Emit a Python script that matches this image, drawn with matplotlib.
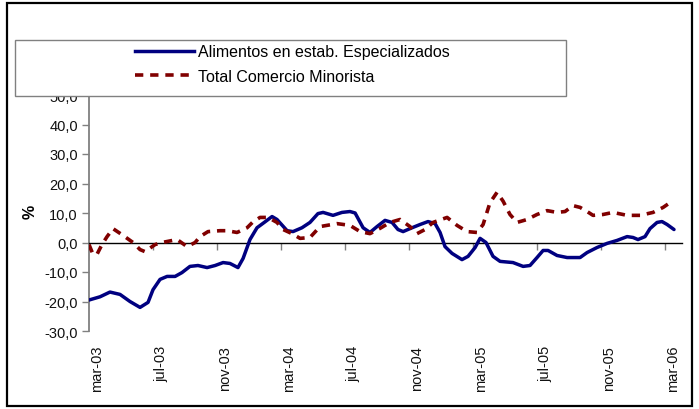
import matplotlib
matplotlib.use("Agg")
import matplotlib.pyplot as plt
from matplotlib.patches import Rectangle
from matplotlib.lines import Line2D

plt.rcParams['font.family'] = ['Liberation Sans', 'DejaVu Sans']

# x = months since mar-03
alim_x = [0.0, 0.69, 1.31, 1.94, 2.56, 3.19, 3.69, 4.0, 4.44, 4.88, 5.38, 5.81, 6.31, 6.81,
          7.38, 7.88, 8.38, 8.81, 9.31, 9.63, 10.06, 10.5, 11.0, 11.44, 11.75, 12.38, 12.75,
          13.31, 13.81, 14.31, 14.63, 15.25, 15.81, 16.31, 16.63, 17.13, 17.56, 18.0, 18.5,
          18.94, 19.31, 19.63, 20.19, 20.69, 21.19, 21.63, 21.94, 22.25, 22.69, 23.31, 23.69,
          24.13, 24.44, 24.81, 25.25, 25.69, 26.5, 27.13, 27.56, 28.0, 28.38, 28.69, 29.25,
          29.88, 30.69, 31.13, 31.75, 32.38, 33.0, 33.63, 34.0, 34.31, 34.75, 35.06, 35.5,
          35.81, 36.13, 36.56]
alim_y = [-19.5, -18.4, -16.8, -17.6, -20.0, -22.0, -20.3, -16.0, -12.5, -11.5, -11.5, -10.2,
          -8.1, -7.8, -8.5, -7.8, -6.8, -7.1, -8.5, -5.4, 1.0, 5.0, 7.0, 8.8, 7.8, 4.0, 3.7,
          5.0, 6.8, 9.8, 10.2, 9.2, 10.2, 10.5, 10.0, 5.0, 3.4, 5.4, 7.5, 6.8, 4.4, 3.7, 5.0,
          6.1, 7.1, 6.4, 3.4, -1.4, -3.7, -5.8, -4.7, -1.7, 1.4, 0.0, -4.7, -6.4, -6.8, -8.1,
          -7.8, -5.1, -2.7, -2.7, -4.4, -5.1, -5.1, -3.4, -1.7, -0.3, 0.7, 2.0, 1.7, 1.0, 2.0,
          4.7, 6.8, 7.1, 6.1, 4.4]

total_x = [0.0, 0.25, 0.5, 0.81, 1.13, 1.5, 2.13, 2.75, 3.19, 3.5, 4.13, 4.56, 5.5, 5.69,
           6.13, 6.63, 6.94, 7.44, 8.19, 8.63, 9.25, 9.88, 10.25, 10.69, 11.19, 11.75, 12.13,
           12.69, 13.19, 13.81, 14.44, 15.5, 16.31, 16.94, 17.56, 18.19, 18.81, 19.44, 20.06,
           20.5, 21.0, 21.5, 22.38, 23.0, 23.63, 24.25, 24.63, 25.06, 25.5, 25.88, 26.31,
           26.75, 27.38, 28.0, 28.63, 29.25, 29.75, 30.25, 30.69, 31.13, 31.5, 32.13, 32.75,
           33.63, 34.44, 35.25, 35.88, 36.31]
total_y = [-0.7, -4.0, -4.0, -0.7, 2.0, 4.7, 2.4, 0.0, -2.4, -3.1, -0.7, 0.0, 1.0, 0.3, -1.4,
           0.0, 2.0, 3.7, 4.0, 4.0, 3.4, 5.0, 7.0, 8.5, 8.5, 6.8, 4.4, 3.0, 1.4, 1.7, 5.4, 6.4,
           5.8, 3.7, 3.0, 4.8, 6.8, 7.8, 5.4, 3.0, 4.4, 6.8, 8.5, 5.8, 3.7, 3.4, 6.1, 13.5,
           17.0, 14.0, 9.5, 6.8, 7.8, 9.5, 10.8, 10.2, 10.5, 12.5, 11.9, 10.5, 9.2, 9.5, 10.2,
           9.2, 9.2, 10.2, 11.9, 13.5]

tick_pos = [0, 4, 8, 12, 16, 20, 24, 28, 32, 36]
tick_lab = ['mar-03', 'jul-03', 'nov-03', 'mar-04', 'jul-04', 'nov-04',
            'mar-05', 'jul-05', 'nov-05', 'mar-06']
y_ticks = [-30, -20, -10, 0, 10, 20, 30, 40, 50]

W, H = 699, 410
fig = plt.figure(figsize=(W / 100, H / 100), dpi=100)
ax = fig.add_axes([89 / W, 1 - 332 / H, (682 - 89) / W, (332 - 96) / H])

ax.plot(alim_x, alim_y, color='#000080', lw=2.5, solid_capstyle='round',
        solid_joinstyle='round', zorder=3)
ax.plot(total_x, total_y, color='#800000', lw=2.6, dashes=(2.3, 1.9), zorder=3)

ax.set_xlim(0, 37.06)
ax.set_ylim(-30, 50)

# y axis
ax.set_yticks(y_ticks)
ax.set_yticklabels([f"{v:.1f}".replace('.', ',') for v in y_ticks])
ax.tick_params(axis='y', direction='out', length=5, width=1, color='#808080',
               labelsize=10.5, labelcolor='#111111', pad=3)
ax.spines['left'].set_color('#808080')
ax.spines['left'].set_linewidth(1.3)
ax.spines['top'].set_visible(False)
ax.spines['right'].set_visible(False)

# zero line carries the tick marks
ax.spines['bottom'].set_position(('data', 0))
ax.spines['bottom'].set_color('black')
ax.spines['bottom'].set_linewidth(1.0)
ax.set_xticks(tick_pos)
ax.tick_params(axis='x', direction='out', length=5, width=1, color='#808080',
               labelbottom=False)

# labels at the bottom of the plot
sec = ax.secondary_xaxis('bottom')
sec.spines['bottom'].set_visible(False)
sec.set_xticks([p + 0.5 for p in tick_pos])
sec.set_xticklabels(tick_lab, rotation=90)
sec.tick_params(axis='x', length=0, pad=10, labelsize=10.5, labelcolor='#111111')

fig.text(30 / W, 1 - 212 / H, '%', rotation=90, fontsize=11.5, fontweight='bold',
         ha='center', va='center')

# outer frame
fig.add_artist(Rectangle((7 / W, 1 - 407 / H), 685 / W, 403 / H, transform=fig.transFigure,
                         fill=False, edgecolor='black', lw=1.6, zorder=1))

# legend box
fig.add_artist(Rectangle((15 / W, 1 - 97 / H), 551 / W, 56 / H, transform=fig.transFigure,
                         facecolor='white', edgecolor='#808080', lw=1.0, zorder=2))
handles = [Line2D([], [], color='#000080', lw=2.5),
           Line2D([], [], color='#800000', lw=2.6, dashes=(2.3, 1.9))]
labels = ['Alimentos en estab. Especializados', 'Total Comercio Minorista']
leg = fig.legend(handles, labels, loc='center', bbox_to_anchor=(292 / W, 1 - 65 / H),
                 frameon=False, fontsize=11.5, handlelength=3.7, handletextpad=0.25,
                 labelspacing=0.6, borderaxespad=0, borderpad=0)
leg.set_zorder(5)

fig.savefig('out.png', dpi=100)
